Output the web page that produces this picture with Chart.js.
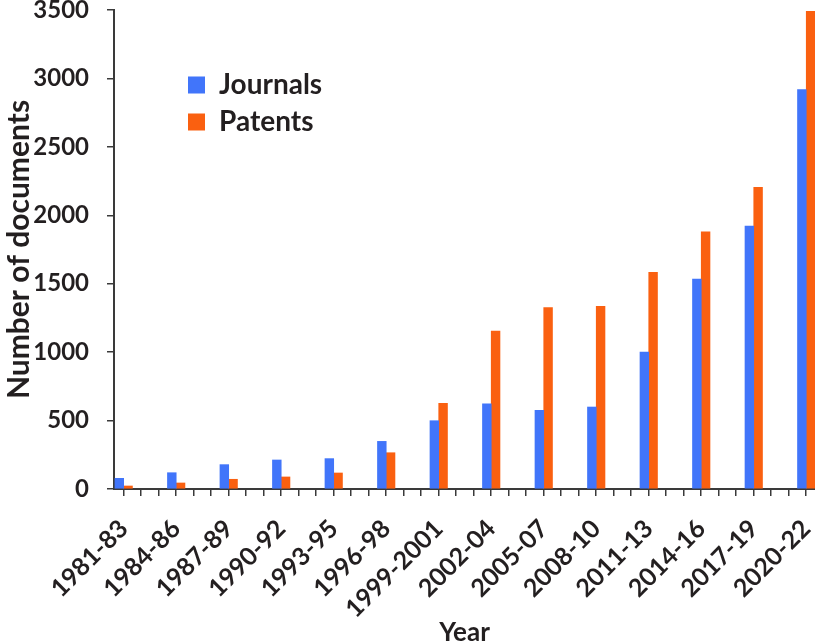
<!DOCTYPE html>
<html><head><meta charset="utf-8">
<script src="https://cdn.jsdelivr.net/npm/chart.js@4"></script>
<style>html,body{margin:0;padding:0;background:#fff;overflow:hidden}#wrap{width:815px;height:644px;position:relative}</style>
</head><body><div id="wrap"><canvas id="c" width="815" height="644"></canvas></div>
<script>
const categories = ['1981-83','1984-86','1987-89','1990-92','1993-95','1996-98','1999-2001','2002-04','2005-07','2008-10','2011-13','2014-16','2017-19','2020-22'];
const journals = [78,119,178,212,222,348,499,623,575,599,1001,1534,1922,2918];
const patents  = [22,44,71,88,117,265,626,1154,1325,1335,1583,1880,2204,3490];
const yMin = 0, yMax = 3500, yStep = 500;
const seriesNames = ['Journals','Patents'];

const SLOTS = 3; // each period spans three year-ticks on the axis
const TXT = '#231f20', AX = '#3a3a3a';
const FONT = 'Lato, "Open Sans", sans-serif';

const toPts = arr => arr.map((v, i) => ({x: i * SLOTS, y: v}));
const xTickValues = Array.from({length: categories.length * SLOTS - 2}, (_, k) => k);

const legendPlace = {
  id: 'legendPlace',
  afterLayout(chart) {
    const lg = chart.legend; if (!lg) return;
    const w = lg.width, h = lg.height;
    lg.left = 179; lg.top = 62;
    lg.right = lg.left + w; lg.bottom = lg.top + h;
  }
};

new Chart(document.getElementById('c'), {
  type: 'bar',
  data: {
    datasets: [
      {label: seriesNames[0], data: toPts(journals), backgroundColor: '#4175fa', borderWidth: 0},
      {label: seriesNames[1], data: toPts(patents), backgroundColor: '#fa6010', borderWidth: 0}
    ]
  },
  plugins: [legendPlace],
  options: {
    responsive: false,
    devicePixelRatio: 1,
    animation: false,
    categoryPercentage: 1,
    barPercentage: 1,
    layout: {padding: {top: 10, left: 0, right: 0, bottom: 0}},
    plugins: {
      tooltip: {enabled: false},
      legend: {
        position: 'chartArea',
        align: 'start',
        labels: {boxWidth: 17, boxHeight: 17, padding: 9, color: TXT,
                 font: {family: FONT, size: 28, weight: 'bold'}}
      }
    },
    scales: {
      x: {
        type: 'linear',
        position: 'bottom',
        offset: false,
        bounds: 'data',
        min: -0.554,
        max: 39.5,
        afterBuildTicks: s => { s.ticks = xTickValues.map(v => ({value: v})); },
        grid: {display: true, offset: false, drawOnChartArea: false, drawTicks: true, tickLength: 7, color: AX, lineWidth: 1.5},
        border: {display: true, color: AX, width: 2},
        ticks: {
          autoSkip: false,
          minRotation: 45, maxRotation: 45, padding: 18,
          color: TXT, font: {family: FONT, size: 25, weight: 'bold'},
          callback: v => (v % SLOTS === 0) ? (categories[v / SLOTS] || '') : ''
        },
        title: {display: true, text: 'Year', color: TXT, font: {family: FONT, size: 26, weight: 'bold'}, padding: {top: 0, bottom: -4}},
        afterFit: s => { s.paddingLeft = 0; s.paddingRight = 0; s.height = 155; }
      },
      y: {
        min: yMin, max: yMax,
        grid: {display: true, drawOnChartArea: false, drawTicks: true, tickLength: 7, color: AX, lineWidth: 1.5},
        border: {display: true, color: AX, width: 2},
        ticks: {stepSize: yStep, padding: 18, color: TXT, font: {family: FONT, size: 24, weight: 'bold'},
                callback: v => String(v)},
        title: {display: true, text: 'Number of documents', color: TXT, font: {family: FONT, size: 30, weight: 'bold'}, padding: {top: 1, bottom: 0}},
        afterFit: s => { s.width = 114; s.paddingTop = 0; s.paddingBottom = 0; }
      }
    }
  }
});
</script></body></html>
